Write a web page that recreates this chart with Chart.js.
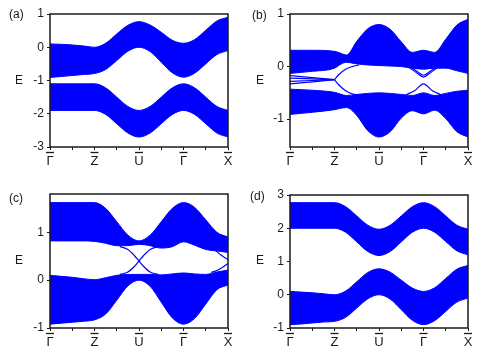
<!DOCTYPE html>
<html>
<head>
<meta charset="utf-8">
<script src="https://cdn.jsdelivr.net/npm/chart.js@4"></script>
<style>
    body { margin: 0; background: #fff; }
    #wrap { position: relative; width: 485px; height: 360px; font-family: "Liberation Sans", Arial, sans-serif; color: #1a1a1a; }
    canvas { position: absolute; }
    .lbl { position: absolute; font-size: 12px; line-height: 14px; }
</style>
</head>
<body>
<div id="wrap">
    <canvas id="pa" width="240" height="180" style="left:0;top:0"></canvas>
    <canvas id="pb" width="245" height="180" style="left:240px;top:0"></canvas>
    <canvas id="pc" width="240" height="180" style="left:0;top:180px"></canvas>
    <canvas id="pd" width="245" height="180" style="left:240px;top:180px"></canvas>
    <div class="lbl" style="left:9px;top:7px">(a)</div>
    <div class="lbl" style="left:252px;top:8px">(b)</div>
    <div class="lbl" style="left:9px;top:191px">(c)</div>
    <div class="lbl" style="left:250px;top:189px">(d)</div>
    <div class="lbl" style="left:15px;top:73px">E</div>
    <div class="lbl" style="left:256px;top:73px">E</div>
    <div class="lbl" style="left:15px;top:253px">E</div>
    <div class="lbl" style="left:256px;top:253px">E</div>
</div>
<script>
// k-path labels (bars drawn above them by the overbar plugin)
const kLabels = ['\u0393', 'Z', 'U', '\u0393', 'X'];

// common k grid for (a), (c), (d)
const kGrid = [0, 0.25, 0.5, 0.75, 1, 1.25, 1.5, 1.75, 2, 2.25, 2.5, 2.75, 3, 3.25, 3.5, 3.75, 4];

// (a)
const aTop1 = [0.10, 0.09, 0.07, 0.04, 0.00, 0.12, 0.40, 0.66, 0.77, 0.67, 0.45, 0.21, 0.12, 0.23, 0.51, 0.79, 0.90];
const aBot1 = [-0.91, -0.88, -0.85, -0.82, -0.79, -0.67, -0.40, -0.12, 0.00, -0.13, -0.45, -0.77, -0.90, -0.78, -0.50, -0.22, -0.10];
const aTop2 = [-1.10, -1.10, -1.10, -1.10, -1.10, -1.22, -1.50, -1.78, -1.90, -1.78, -1.50, -1.22, -1.10, -1.22, -1.50, -1.78, -1.90];
const aBot2 = [-1.90, -1.90, -1.90, -1.90, -1.90, -2.02, -2.30, -2.58, -2.70, -2.58, -2.30, -2.02, -1.90, -2.02, -2.30, -2.58, -2.70];

// (b)
const bK1 = [0, 0.5, 1, 1.15, 1.27, 1.5, 1.75, 2, 2.25, 2.5, 2.75, 3, 3.25, 3.5, 3.75, 4];
const bTop1 = [0.31, 0.31, 0.29, 0.25, 0.22, 0.48, 0.72, 0.80, 0.71, 0.47, 0.27, 0.31, 0.27, 0.52, 0.79, 0.90];
const bBot1 = [-0.13, -0.09, -0.03, 0.05, 0.08, 0.05, 0.03, 0.02, 0.01, 0.00, -0.03, -0.05, -0.03, -0.03, -0.08, -0.13];
const bK2 = [0, 0.5, 1, 1.27, 1.5, 1.75, 2, 2.25, 2.5, 2.75, 3, 3.25, 3.5, 3.75, 4];
const bTop2 = [-0.43, -0.45, -0.49, -0.55, -0.53, -0.51, -0.50, -0.51, -0.53, -0.55, -0.50, -0.55, -0.51, -0.47, -0.45];
const bBot2 = [-0.91, -0.87, -0.82, -0.78, -0.93, -1.22, -1.34, -1.24, -0.98, -0.84, -0.90, -0.83, -0.99, -1.24, -1.34];
// (b) edge states
const bEk0 = [0, 0.5, 1];
const bE0a = [-0.17, -0.21, -0.25];
const bE0b = [-0.22, -0.235, -0.25];
const bE0c = [-0.28, -0.265, -0.25];
const bE0d = [-0.33, -0.29, -0.25];
const bEk1 = [1, 1.1, 1.25, 1.4, 1.55];
const bE1 = [-0.25, -0.15, -0.05, 0.00, 0.03];
const bE2 = [-0.25, -0.35, -0.46, -0.52, -0.54];
const bEk2 = [2.55, 2.7, 2.85, 3.0, 3.15, 3.3, 3.45];
const bE3 = [0.03, -0.03, -0.12, -0.20, -0.12, -0.03, 0.03];
const bE4 = [0.06, 0.00, -0.09, -0.165, -0.09, 0.00, 0.06];
const bEk3 = [2.6, 2.8, 3.0, 3.2, 3.4];
const bE5 = [-0.54, -0.46, -0.33, -0.46, -0.54];

// (c)
const cTop1 = [1.62, 1.62, 1.62, 1.62, 1.62, 1.50, 1.22, 0.94, 0.82, 0.94, 1.22, 1.50, 1.62, 1.52, 1.26, 1.00, 0.90];
const cBot1 = [0.82, 0.82, 0.82, 0.82, 0.81, 0.77, 0.72, 0.72, 0.75, 0.72, 0.67, 0.70, 0.80, 0.73, 0.64, 0.61, 0.58];
const cTop2 = [0.10, 0.08, 0.06, 0.03, 0.01, 0.05, 0.10, 0.12, 0.12, 0.12, 0.11, 0.13, 0.15, 0.13, 0.12, 0.17, 0.21];
const cBot2 = [-0.92, -0.90, -0.88, -0.86, -0.83, -0.71, -0.42, -0.12, 0.00, -0.13, -0.46, -0.79, -0.92, -0.80, -0.50, -0.20, -0.10];
// (c) edge states
const cEk1 = [1.57, 1.75, 1.9, 2.0, 2.1, 2.25, 2.43];
const cE1 = [0.70, 0.64, 0.51, 0.40, 0.29, 0.17, 0.12];
const cE2 = [0.12, 0.17, 0.29, 0.40, 0.51, 0.64, 0.70];
const cEk3 = [3.62, 3.75, 3.88, 4];
const cE3 = [0.16, 0.20, 0.27, 0.35];
const cEk4 = [3.72, 3.85, 4];
const cE4 = [0.62, 0.52, 0.43];

// (d)
const dTop1 = [2.77, 2.77, 2.77, 2.77, 2.77, 2.65, 2.37, 2.09, 1.97, 2.09, 2.37, 2.65, 2.77, 2.65, 2.37, 2.09, 1.97];
const dBot1 = [2.00, 2.00, 2.00, 2.00, 2.00, 1.88, 1.59, 1.30, 1.18, 1.30, 1.59, 1.88, 2.00, 1.88, 1.60, 1.32, 1.20];
const dTop2 = [0.10, 0.08, 0.06, 0.03, 0.00, 0.11, 0.39, 0.67, 0.78, 0.68, 0.44, 0.20, 0.10, 0.21, 0.49, 0.77, 0.88];
const dBot2 = [-0.90, -0.88, -0.85, -0.82, -0.80, -0.68, -0.40, -0.12, 0.00, -0.13, -0.45, -0.77, -0.90, -0.78, -0.50, -0.22, -0.10];

const BLUE = '#0000ff';
const INK = '#1a1a1a';

function pts(k, v) {
    return k.map(function (x, i) { return { x: x, y: v[i] }; });
}

// a band = upper edge filled down to lower edge
function band(k, top, bot) {
    return [
        { data: pts(k, top), fill: '+1', backgroundColor: BLUE, borderColor: BLUE, borderWidth: 1 },
        { data: pts(k, bot), fill: false, borderColor: BLUE, borderWidth: 1 }
    ];
}

function edge(k, v) {
    return { data: pts(k, v), fill: false, borderColor: BLUE, borderWidth: 1.2 };
}

// black box around the plot area
const frame = {
    id: 'frame',
    afterDatasetsDraw: function (chart) {
        const a = chart.chartArea;
        const ctx = chart.ctx;
        ctx.save();
        ctx.strokeStyle = INK;
        ctx.lineWidth = 1.5;
        ctx.strokeRect(a.left, a.top, a.right - a.left, a.bottom - a.top);
        ctx.restore();
    }
};

// bar above each high-symmetry point label
const overbar = {
    id: 'overbar',
    afterDraw: function (chart) {
        const sx = chart.scales.x;
        const ctx = chart.ctx;
        ctx.save();
        ctx.strokeStyle = INK;
        ctx.lineWidth = 1.3;
        for (let i = 0; i < kLabels.length; i++) {
            const px = sx.getPixelForValue(i);
            const y = sx.top + 5.5;
            ctx.beginPath();
            ctx.moveTo(px - 4, y);
            ctx.lineTo(px + 4, y);
            ctx.stroke();
        }
        ctx.restore();
    }
};

function makePanel(id, datasets, yMin, yMax, pad, xH) {
    new Chart(document.getElementById(id), {
        type: 'line',
        data: { datasets: datasets },
        options: {
            responsive: false,
            animation: false,
            layout: { padding: pad },
            elements: {
                point: { radius: 0 },
                line: { cubicInterpolationMode: 'monotone' }
            },
            plugins: { legend: { display: false }, tooltip: { enabled: false } },
            scales: {
                x: {
                    type: 'linear',
                    min: 0,
                    max: 4,
                    afterFit: function (s) { s.height = xH; },
                    border: { display: false },
                    grid: { drawOnChartArea: false, drawTicks: true, tickLength: 3, color: INK },
                    ticks: {
                        stepSize: 0.5,
                        autoSkip: false,
                        maxRotation: 0,
                        padding: 4,
                        color: INK,
                        font: { family: '"Liberation Sans", Arial, sans-serif', size: 13 },
                        callback: function (v) { return Number.isInteger(v) ? kLabels[v] : ''; }
                    }
                },
                y: {
                    min: yMin,
                    max: yMax,
                    afterFit: function (s) { s.width = 50; },
                    border: { display: false },
                    grid: { drawOnChartArea: false, drawTicks: true, tickLength: 3, color: INK },
                    ticks: {
                        stepSize: 1,
                        includeBounds: false,
                        padding: 3,
                        color: INK,
                        font: { family: '"Liberation Sans", Arial, sans-serif', size: 12 }
                    }
                }
            }
        },
        plugins: [frame, overbar]
    });
}

makePanel('pa', [].concat(band(kGrid, aTop1, aBot1), band(kGrid, aTop2, aBot2)),
    -3, 1, { left: 0, top: 14, right: 12, bottom: 0 }, 33);

makePanel('pb', [].concat(
    band(bK1, bTop1, bBot1), band(bK2, bTop2, bBot2),
    [edge(bEk0, bE0a), edge(bEk0, bE0b), edge(bEk0, bE0c), edge(bEk0, bE0d),
     edge(bEk1, bE1), edge(bEk1, bE2), edge(bEk2, bE3), edge(bEk2, bE4), edge(bEk3, bE5)]),
    -1.53, 1, { left: 0, top: 14, right: 17, bottom: 0 }, 33);

makePanel('pc', [].concat(
    band(kGrid, cTop1, cBot1), band(kGrid, cTop2, cBot2),
    [edge(cEk1, cE1), edge(cEk1, cE2), edge(cEk3, cE3), edge(cEk4, cE4)]),
    -1, 1.8, { left: 0, top: 14, right: 12, bottom: 0 }, 32);

makePanel('pd', [].concat(band(kGrid, dTop1, dBot1), band(kGrid, dTop2, dBot2)),
    -1, 3, { left: 0, top: 15, right: 17, bottom: 0 }, 32);
</script>
</body>
</html>
